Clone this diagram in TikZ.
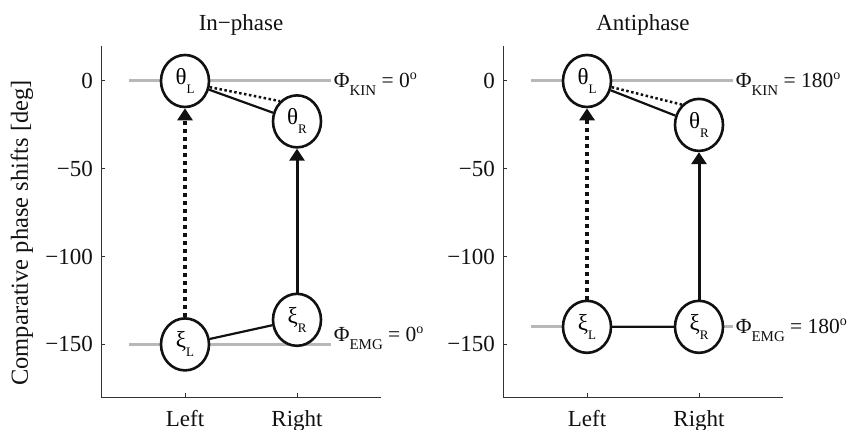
\documentclass[tikz,border=0pt]{standalone}
\usepackage{fontspec}
\setmainfont{Liberation Serif}
\usetikzlibrary{arrows.meta,positioning,shapes.geometric}
\definecolor{ink}{HTML}{111111}
\definecolor{axc}{HTML}{333333}
\definecolor{refc}{HTML}{B8B8B8}
\newcommand{\nsub}[1]{\raisebox{-9pt}{\fontsize{13}{13}\selectfont #1}}
\newcommand{\lsub}[1]{\raisebox{-8pt}{\fontsize{15}{15}\selectfont #1}}
\newcommand{\lsup}[1]{\raisebox{8pt}{\fontsize{14}{14}\selectfont #1}}
\tikzset{
  ax/.style={draw=axc,line width=1pt},
  refl/.style={draw=refc,line width=3pt},
  nd/.style={ellipse,draw=ink,line width=2.6pt,fill=white,minimum width=48pt,minimum height=52pt,inner sep=0pt,font=\fontsize{23}{23}\selectfont},
  ar/.style={-{Triangle[length=12pt,width=15pt]},draw=ink,line width=3pt},
  ard/.style={ar,line width=3.5pt,dash pattern=on 4pt off 4pt},
  ln/.style={draw=ink,line width=2.2pt},
  lnd/.style={ln,line width=2.5pt,dash pattern=on 2.5pt off 2.5pt},
  lab/.style={font=\fontsize{23}{23}\selectfont,text=ink},
  tck/.style={lab,anchor=east,inner sep=2pt,xshift=-6pt},
  phl/.style={font=\fontsize{21.5}{21.5}\selectfont,text=ink,anchor=base west,inner sep=3pt},
}

\begin{document}
\begin{tikzpicture}[x=1pt,y=1pt]
  \useasboundingbox (0,0) rectangle (848,430);
  \node[lab,rotate=90,font=\fontsize{24.5}{24.5}\selectfont] (ylab) at (22,197) {Comparative phase shifts [deg]};
  % in-phase
  \begin{scope}[shift={(73pt,349pt)},x=112pt,y=1.756pt]
    \draw[ax] (0.25,20) -- (0.25,-180) -- (2.75,-180);
    \foreach \v/\t in {0/0,-50/−50,-100/−100,-150/−150}{
      \draw[ax] (0.25,\v) -- ++(4pt,0);
      \node[tck] at (0.25,\v) {\t};
    }
    \foreach \p/\t in {1/Left,2/Right}{
      \draw[ax] (\p,-180) -- ++(0,4pt);
      \node[lab,anchor=base] at (\p,-180) [yshift=-29pt] {\t};
    }
    \node[lab,anchor=base] (ttl1) at (1.5,29) {In−phase};
    \draw[refl] (0.5,0) -- (2.3,0);
    \draw[refl] (0.5,-150) -- (2.3,-150);
    \node[phl,yshift=-7pt] (kin1) at (2.3,0) {Φ\lsub{KIN} = 0\lsup{o}};
    \node[phl,yshift=3pt] (emg1) at (2.3,-150) {Φ\lsub{EMG} = 0\lsup{o}};
    \node[nd] (thL) at (1,0) {θ\nsub{L}};
    \node[nd] (thR) at (2,-23) {θ\nsub{R}};
    \node[nd] (xiL) at (1,-150) {ξ\nsub{L}};
    \node[nd] (xiR) at (2,-136) {ξ\nsub{R}};
    \draw[ard] (xiL) -- (thL);
    \draw[ar] (xiR) -- (thR);
    \draw[ln] (xiL) -- (xiR);
    \draw[ln] (thL) -- (thR);
    \draw[lnd] (thL.-14) -- (thR.130);
  \end{scope}
  % antiphase
  \begin{scope}[shift={(475pt,349pt)},x=112pt,y=1.756pt]
    \draw[ax] (0.25,20) -- (0.25,-180) -- (2.75,-180);
    \foreach \v/\t in {0/0,-50/−50,-100/−100,-150/−150}{
      \draw[ax] (0.25,\v) -- ++(4pt,0);
      \node[tck] at (0.25,\v) {\t};
    }
    \foreach \p/\t in {1/Left,2/Right}{
      \draw[ax] (\p,-180) -- ++(0,4pt);
      \node[lab,anchor=base] at (\p,-180) [yshift=-29pt] {\t};
    }
    \node[lab,anchor=base] (ttl2) at (1.5,29) {Antiphase};
    \draw[refl] (0.5,0) -- (2.3,0);
    \draw[refl] (0.5,-140) -- (2.3,-140);
    \node[phl,yshift=-7pt] (kin2) at (2.3,0) {Φ\lsub{KIN} = 180\lsup{o}};
    \node[phl,yshift=-7pt] (emg2) at (2.3,-140) {Φ\lsub{EMG} = 180\lsup{o}};
    \node[nd] (thL2) at (1,0) {θ\nsub{L}};
    \node[nd] (thR2) at (2,-25) {θ\nsub{R}};
    \node[nd] (xiL2) at (1,-140) {ξ\nsub{L}};
    \node[nd] (xiR2) at (2,-140) {ξ\nsub{R}};
    \draw[ard] (xiL2) -- (thL2);
    \draw[ar] (xiR2) -- (thR2);
    \draw[ln] (xiL2) -- (xiR2);
    \draw[ln] (thL2) -- (thR2);
    \draw[lnd] (thL2.-14) -- (thR2.130);
  \end{scope}
\end{tikzpicture}
\end{document}
